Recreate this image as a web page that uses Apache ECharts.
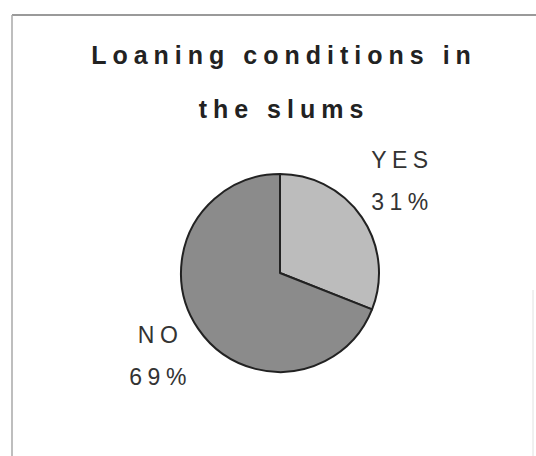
<!DOCTYPE html>
<html>
<head>
<meta charset="utf-8">
<script src="https://cdn.jsdelivr.net/npm/echarts@6/dist/echarts.min.js"></script>
<style>
html,body{margin:0;padding:0;background:#fff;}
#chart{width:536px;height:456px;}
</style>
</head>
<body>
<div id="chart"></div>
<script>
const titleText = 'Loaning conditions in\nthe slums';
const categories = ['YES', 'NO'];
const values = [31, 69];
const sliceColors = ['#bcbcbc', '#8b8b8b'];
const labelShift = [[-5, -9], [8, 0]];

const chart = echarts.init(document.getElementById('chart'), null, {renderer: 'svg'});
const font = 'Liberation Sans, Arial, sans-serif';

chart.setOption({
  animation: false,
  backgroundColor: '#ffffff',
  title: {
    text: titleText,
    left: 279,
    top: 23,
    textAlign: 'center',
    textStyle: {fontFamily: font, fontSize: 25, fontWeight: 'bold', color: '#222', lineHeight: 54}
  },
  graphic: [
    {type: 'line', shape: {x1: 12, y1: 15, x2: 536, y2: 15}, style: {stroke: '#9a9a9a', lineWidth: 2}},
    {type: 'line', shape: {x1: 12, y1: 15, x2: 12, y2: 456}, style: {stroke: '#a8a8a8', lineWidth: 1.5}},
    {type: 'line', shape: {x1: 533, y1: 290, x2: 533, y2: 456}, style: {stroke: '#e0e0e0', lineWidth: 1}}
  ],
  series: [{
    type: 'pie',
    center: [280, 273],
    radius: 99,
    startAngle: 90,
    clockwise: true,
    silent: true,
    data: categories.map((c, i) => ({name: c, value: values[i], itemStyle: {color: sliceColors[i]}})),
    itemStyle: {borderColor: '#222', borderWidth: 2},
    label: {
      show: true,
      position: 'outside',
      formatter: p => p.name + '\n' + p.value + '%',
      fontFamily: font,
      fontSize: 23,
      color: '#333',
      lineHeight: 42
    },
    labelLine: {show: false, length: 49, length2: 0},
    labelLayout: function (p) {
      const s = labelShift[p.dataIndex];
      return {align: 'center', dx: s[0], dy: s[1]};
    }
  }]
});

function spacing() {
  const texts = document.querySelectorAll('#chart svg text');
  texts.forEach(t => {
    const s = t.textContent;
    if (s.indexOf('Loaning') >= 0 || s.indexOf('slums') >= 0) t.style.letterSpacing = '6px';
    else t.style.letterSpacing = '5.5px';
  });
}
chart.on('finished', spacing);
spacing();
</script>
</body>
</html>
